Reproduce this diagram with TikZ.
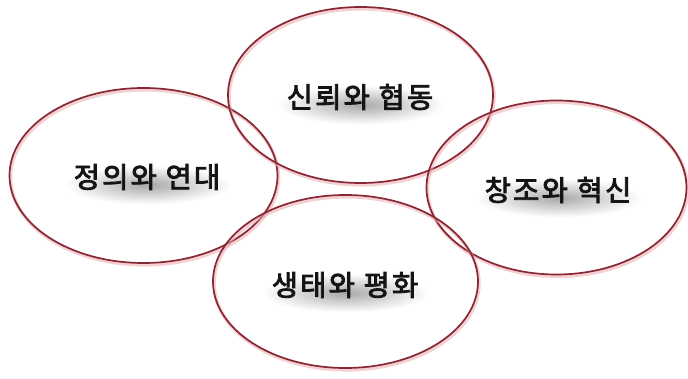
\documentclass[tikz,border=0pt]{standalone}
\usepackage{fontspec}
\newfontfamily\kr[FakeBold=3,LetterSpace=8]{Noto Sans CJK KR}
\usetikzlibrary{shapes.geometric,fadings}
\definecolor{ringc}{RGB}{135,40,52}
\definecolor{ringglow}{RGB}{235,170,175}
\pgfdeclarelayer{background}
\pgfdeclarelayer{canvas}
\pgfsetlayers{canvas,background,main}
\tikzfading[name=softglow, inner color=transparent!20, outer color=transparent!100]
\tikzset{
  ring/.style={ellipse, draw=ringc, line width=1.7pt, inner sep=0pt, outer sep=0pt,
    preaction={draw=ringglow, line width=3.5pt, opacity=0.55,
      transform canvas={shift={(1pt,-1.8pt)}}}},
  ringlabel/.style={font=\kr\fontsize{28.5}{32}\selectfont, text=black!92, inner sep=0pt},
  textglow/.style={fill=black!42, path fading=softglow}
}
\begin{document}
\begin{tikzpicture}[x=1pt,y=-1pt]
\begin{pgfonlayer}{canvas}
\fill[white] (0,0) rectangle (688,379);
\end{pgfonlayer}
\useasboundingbox (0,0) rectangle (688,379);
% rings
\node[ring, minimum width=268pt, minimum height=175pt] (justice) at (143.5,175.5) {};
\node[ring, minimum width=265pt, minimum height=176pt] (trust) at (360.5,95) {};
\node[ring, minimum width=260pt, minimum height=174pt] (create) at (556.5,187.5) {};
\node[ring, minimum width=265pt, minimum height=173pt] (eco) at (345.5,281.5) {};
% labels
\node[ringlabel] (justiceT) at (147,177) {정의와 연대};
\node[ringlabel] (trustT) at (360,97) {신뢰와 협동};
\node[ringlabel] (createT) at (558,190) {창조와 혁신};
\node[ringlabel] (ecoT) at (345,285) {생태와 평화};
% soft text shadows
\begin{pgfonlayer}{background}
\foreach \t in {justiceT,trustT,createT,ecoT}{
  \fill[textglow] ([shift={(-8,2)}]\t.north west) rectangle ([shift={(10,14)}]\t.south east);
}
\end{pgfonlayer}
\end{tikzpicture}
\end{document}
